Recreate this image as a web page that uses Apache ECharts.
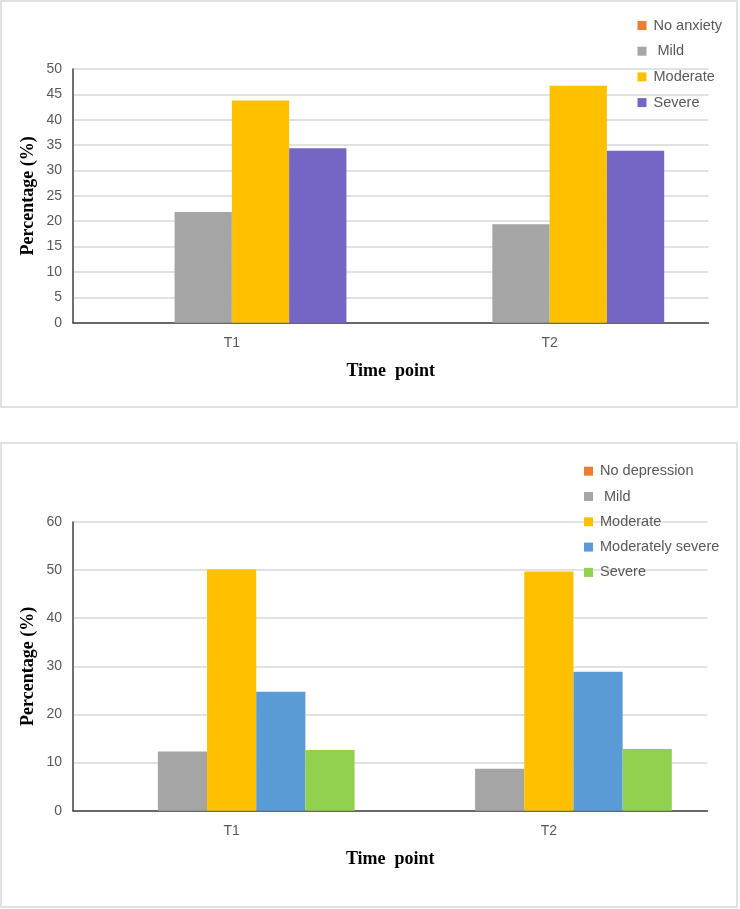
<!DOCTYPE html>
<html>
<head>
<meta charset="utf-8">
<script src="https://cdn.jsdelivr.net/npm/echarts@6/dist/echarts.min.js"></script>
<style>
html,body{margin:0;padding:0;background:#fff;width:740px;height:909px;overflow:hidden;}
#c1{position:absolute;left:0;top:0;width:740px;height:409px;}
#c2{position:absolute;left:0;top:441px;width:740px;height:468px;}
</style>
</head>
<body>
<div id="c1"></div>
<div id="c2"></div>
<script>
// ---- data ----
var categories = ['T1', 'T2'];
var anxietyNames = ['No anxiety', ' Mild', 'Moderate', 'Severe'];
var anxNone = [0, 0];
var anxMild = [21.8, 19.4];
var anxModerate = [43.8, 46.7];
var anxSevere = [34.4, 33.9];
var depressionNames = ['No depression', ' Mild', 'Moderate', 'Moderately severe', 'Severe'];
var depNone = [0, 0];
var depMild = [12.3, 8.7];
var depModerate = [50.2, 49.7];
var depModSevere = [24.7, 28.9];
var depSevere = [12.6, 12.8];
var yTicks1 = {min: 0, max: 50, interval: 5};
var yTicks2 = {min: 0, max: 60, interval: 10};
var xTitle = 'Time  point';
var yTitle = 'Percentage (%)';

var anxColors = ['#ED7D31', '#A5A5A5', '#FFC000', '#7566C6'];
var depColors = ['#ED7D31', '#A5A5A5', '#FFC000', '#5B9BD5', '#92D050'];

var labelFont = 'Liberation Sans';
var titleFont = 'Liberation Serif';

function makeOption(cfg) {
  var series = cfg.names.map(function (n, i) {
    return {
      name: n, type: 'bar', data: cfg.values[i],
      barGap: '0%', barCategoryGap: cfg.gap,
      itemStyle: {color: cfg.colors[i]},
      emphasis: {disabled: true}
    };
  });
  return {
    animation: false,
    graphic: [{
      type: 'rect',
      shape: {x: cfg.border[0], y: cfg.border[1], width: cfg.border[2], height: cfg.border[3]},
      style: {fill: 'none', stroke: '#D9D9D9', lineWidth: 1.5},
      silent: true, z: -1
    }],
    legend: {
      orient: 'vertical',
      left: cfg.legendLeft, top: cfg.legendTop,
      itemWidth: 9, itemHeight: 9, itemGap: cfg.legendGap,
      icon: 'rect',
      selectedMode: false,
      data: cfg.names,
      textStyle: {fontFamily: labelFont, fontSize: 14.5, color: '#595959', lineHeight: 14, padding: [0, 0, 0, 2]}
    },
    grid: {left: 73, right: cfg.gridRight, top: cfg.gridTop, height: cfg.gridHeight, containLabel: false},
    xAxis: {
      type: 'category', data: categories,
      axisLine: {lineStyle: {color: '#404040', width: 1.5}},
      axisTick: {show: false},
      axisLabel: {fontFamily: labelFont, fontSize: 14, color: '#595959', margin: 13},
      name: xTitle, nameLocation: 'middle', nameGap: 40,
      nameTextStyle: {fontFamily: titleFont, fontWeight: 'bold', fontSize: 18, color: '#000'}
    },
    yAxis: {
      type: 'value', min: cfg.ticks.min, max: cfg.ticks.max, interval: cfg.ticks.interval,
      axisLine: {show: true, lineStyle: {color: '#404040', width: 1.5}},
      axisTick: {show: false},
      splitLine: {lineStyle: {color: '#D9D9D9', width: 1.5}},
      axisLabel: {fontFamily: labelFont, fontSize: 14, color: '#595959', margin: 11},
      name: yTitle, nameLocation: 'middle', nameGap: 36, nameMoveOverlap: false,
      nameTextStyle: {fontFamily: titleFont, fontWeight: 'bold', fontSize: 18, color: '#000'}
    },
    series: series
  };
}

var chart1 = echarts.init(document.getElementById('c1'), null, {renderer: 'canvas'});
chart1.setOption(makeOption({
  names: anxietyNames,
  values: [anxNone, anxMild, anxModerate, anxSevere],
  colors: anxColors,
  gap: '27.9%',
  ticks: yTicks1,
  border: [1, 1, 736, 406],
  legendLeft: 632.5, legendTop: 13, legendGap: 10.7,
  gridRight: 31.5, gridTop: 69, gridHeight: 253.7
}));

var chart2 = echarts.init(document.getElementById('c2'), null, {renderer: 'canvas'});
chart2.setOption(makeOption({
  names: depressionNames,
  values: [depNone, depMild, depModerate, depModSevere, depSevere],
  colors: depColors,
  gap: '22.5%',
  ticks: yTicks2,
  border: [1, 2, 736, 464],
  legendLeft: 579, legendTop: 17.7, legendGap: 10.3,
  gridRight: 32.5, gridTop: 81, gridHeight: 288.7
}));
</script>
</body>
</html>
